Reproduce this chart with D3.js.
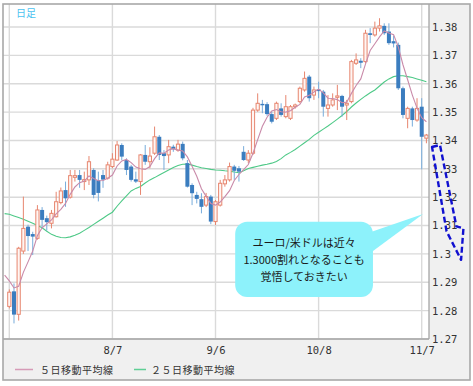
<!DOCTYPE html>
<html><head><meta charset="utf-8">
<script src="https://cdn.jsdelivr.net/npm/d3@7"></script>
<style>body{margin:0;background:#fff}svg{display:block}</style>
</head><body><svg id="c" width="473" height="386"></svg>
<script>
// ---- DATA ----
const dates = ["7/8","7/9","7/10","7/11","7/12","7/15","7/16","7/17","7/18","7/19",
"7/22","7/23","7/24","7/25","7/26","7/29","7/30","7/31","8/1","8/2",
"8/5","8/6","8/7","8/8","8/9","8/12","8/13","8/14","8/15","8/16",
"8/19","8/20","8/21","8/22","8/23","8/26","8/27","8/28","8/29","8/30",
"9/2","9/3","9/4","9/5","9/6","9/9","9/10","9/11","9/12","9/13",
"9/16","9/17","9/18","9/19","9/20","9/23","9/24","9/25","9/26","9/27",
"9/30","10/1","10/2","10/3","10/4","10/7","10/8","10/9","10/10","10/11",
"10/14","10/15","10/16","10/17","10/18","10/21","10/22","10/23","10/24","10/25",
"10/28","10/29","10/30","10/31","11/1","11/4","11/5","11/6","11/7","11/8"];
const open = [1.2815,1.2868,1.2787,1.3010,1.3096,1.3070,1.3055,1.3155,1.3126,1.3108,
1.3131,1.3181,1.3225,1.3200,1.3270,1.3278,1.3255,1.3261,1.3296,1.3260,
1.3278,1.3267,1.3308,1.3331,1.3384,1.3331,1.3308,1.3263,1.3255,1.3349,
1.3325,1.3355,1.3413,1.3355,1.3349,1.3378,1.3366,1.3388,1.3320,1.3243,
1.3208,1.3193,1.3172,1.3202,1.3114,1.3172,1.3247,1.3261,1.3308,1.3302,
1.3360,1.3331,1.3355,1.3507,1.3529,1.3528,1.3493,1.3478,1.3513,1.3484,
1.3478,1.3519,1.3537,1.3578,1.3625,1.3560,1.3580,1.3572,1.3513,1.3525,
1.3552,1.3557,1.3525,1.3537,1.3672,1.3681,1.3678,1.3778,1.3772,1.3796,
1.3804,1.3784,1.3750,1.3737,1.3584,1.3478,1.3513,1.3472,1.3519,1.3408];
const high = [1.2875,1.2896,1.3025,1.3202,1.3103,1.3078,1.3172,1.3165,1.3135,1.3155,
1.3219,1.3234,1.3255,1.3296,1.3296,1.3296,1.3290,1.3345,1.3302,1.3290,
1.3296,1.3325,1.3355,1.3398,1.3390,1.3337,1.3314,1.3290,1.3352,1.3384,
1.3376,1.3449,1.3419,1.3366,1.3402,1.3385,1.3402,1.3396,1.3331,1.3249,
1.3219,1.3214,1.3215,1.3208,1.3190,1.3261,1.3278,1.3322,1.3314,1.3310,
1.3380,1.3366,1.3515,1.3566,1.3543,1.3535,1.3501,1.3537,1.3531,1.3560,
1.3525,1.3530,1.3590,1.3643,1.3631,1.3590,1.3607,1.3578,1.3560,1.3566,
1.3596,1.3561,1.3543,1.3684,1.3707,1.3690,1.3790,1.3796,1.3819,1.3831,
1.3813,1.3813,1.3770,1.3745,1.3590,1.3519,1.3519,1.3549,1.3549,1.3423];
const low = [1.2808,1.2755,1.2765,1.3000,1.3010,1.2996,1.3050,1.3090,1.3082,1.3090,
1.3128,1.3175,1.3166,1.3195,1.3255,1.3233,1.3225,1.3243,1.3196,1.3185,
1.3233,1.3262,1.3302,1.3328,1.3331,1.3278,1.3255,1.3250,1.3208,1.3314,
1.3302,1.3349,1.3331,1.3296,1.3320,1.3360,1.3360,1.3330,1.3234,1.3172,
1.3178,1.3143,1.3165,1.3105,1.3102,1.3167,1.3237,1.3255,1.3261,1.3255,
1.3328,1.3320,1.3349,1.3501,1.3496,1.3487,1.3460,1.3472,1.3484,1.3478,
1.3472,1.3512,1.3531,1.3572,1.3537,1.3543,1.3549,1.3484,1.3484,1.3519,
1.3507,1.3484,1.3472,1.3531,1.3666,1.3655,1.3672,1.3743,1.3766,1.3784,
1.3772,1.3737,1.3728,1.3578,1.3478,1.3443,1.3449,1.3466,1.3298,1.3390];
const close = [1.2865,1.2786,1.3020,1.3090,1.3063,1.3061,1.3155,1.3120,1.3112,1.3143,
1.3184,1.3222,1.3196,1.3276,1.3276,1.3261,1.3262,1.3325,1.3208,1.3215,
1.3262,1.3314,1.3334,1.3384,1.3343,1.3296,1.3261,1.3255,1.3349,1.3325,
1.3345,1.3413,1.3349,1.3345,1.3378,1.3369,1.3387,1.3337,1.3237,1.3214,
1.3194,1.3166,1.3202,1.3114,1.3184,1.3249,1.3261,1.3308,1.3293,1.3290,
1.3331,1.3355,1.3507,1.3531,1.3524,1.3493,1.3466,1.3531,1.3490,1.3519,
1.3519,1.3525,1.3584,1.3619,1.3549,1.3578,1.3574,1.3519,1.3525,1.3543,
1.3557,1.3519,1.3531,1.3678,1.3684,1.3674,1.3778,1.3772,1.3796,1.3804,
1.3778,1.3743,1.3742,1.3584,1.3490,1.3513,1.3472,1.3513,1.3413,1.3419];
// moving averages: first value is for 7/5 (day before the first candle)
const ma5 = [1.2925,
1.2905,1.2880,1.2886,1.2935,1.2972,1.3010,1.3065,1.3092,1.3106,1.3120,
1.3141,1.3157,1.3178,1.3210,1.3236,1.3251,1.3257,1.3275,1.3266,1.3258,
1.3259,1.3267,1.3278,1.3310,1.3328,1.3333,1.3322,1.3306,1.3300,1.3298,
1.3308,1.3336,1.3356,1.3355,1.3366,1.3371,1.3366,1.3363,1.3342,1.3309,
1.3274,1.3230,1.3203,1.3178,1.3172,1.3183,1.3202,1.3223,1.3259,1.3280,
1.3297,1.3315,1.3355,1.3403,1.3450,1.3482,1.3504,1.3509,1.3501,1.3500,
1.3505,1.3517,1.3527,1.3553,1.3559,1.3571,1.3581,1.3568,1.3549,1.3548,
1.3544,1.3533,1.3535,1.3566,1.3594,1.3617,1.3669,1.3717,1.3741,1.3765,
1.3786,1.3779,1.3773,1.3730,1.3667,1.3614,1.3560,1.3514,1.3480,1.3466];
const ma25 = [1.3142,
1.3140,1.3134,1.3128,1.3122,1.3115,1.3108,1.3100,1.3092,1.3080,1.3069,
1.3062,1.3058,1.3057,1.3060,1.3066,1.3073,1.3083,1.3093,1.3104,1.3115,
1.3126,1.3137,1.3147,1.3168,1.3187,1.3205,1.3222,1.3231,1.3238,1.3250,
1.3261,1.3269,1.3278,1.3287,1.3296,1.3305,1.3312,1.3316,1.3317,1.3313,
1.3308,1.3304,1.3301,1.3298,1.3296,1.3295,1.3293,1.3292,1.3289,1.3286,
1.3293,1.3301,1.3305,1.3309,1.3313,1.3316,1.3320,1.3326,1.3336,1.3349,
1.3358,1.3368,1.3380,1.3392,1.3404,1.3418,1.3429,1.3440,1.3451,1.3463,
1.3475,1.3488,1.3502,1.3518,1.3532,1.3545,1.3557,1.3568,1.3578,1.3592,
1.3606,1.3617,1.3625,1.3628,1.3628,1.3625,1.3622,1.3617,1.3612,1.3607];
const yTicks = [1.27,1.28,1.29,1.30,1.31,1.32,1.33,1.34,1.35,1.36,1.37,1.38];
const gridDates = ["7/8","8/7","9/6","10/8","11/7"];
const labelDates = ["8/7","9/6","10/8","11/7"];
const seriesNames = ["５日移動平均線","２５日移動平均線"];
const chartTitle = "日足";
const calloutLines = ["ユーロ/米ドルは近々","1.3000割れとなることも","覚悟しておきたい"];
// annotation anchors in (day index, price) units
const calloutBox = {i0:48.2, i1:77.6, p0:1.3113, p1:1.2848, tipI:88.3, tipP:1.3141, baseP0:1.3077, baseP1:1.3005};
const arrowPts = [[90.2,1.3377],[91.9,1.3384],[95.4,1.3097],[96.9,1.3090],[96.4,1.2979],[93.3,1.3080]];

// ---- LAYOUT ----
const L = 3, T = 4, R = 429, B = 339, OR = 470, OB = 380;
const svg = d3.select("#c");
const x = d3.scaleLinear().domain([0, 89]).range([9.3, 426.4]);
const y = d3.scaleLinear().domain([1.27, 1.38]).range([B, 27]);

svg.append("rect").attr("width",473).attr("height",386).attr("fill","#fff");
svg.append("rect").attr("x",L).attr("y",T).attr("width",OR-L).attr("height",OB-T)
  .attr("fill","#f0f0f0");
svg.append("rect").attr("x",L).attr("y",T).attr("width",R-L).attr("height",B-T).attr("fill","#fff");

svg.append("defs").append("clipPath").attr("id","clip")
  .append("rect").attr("x",L).attr("y",T).attr("width",R-L).attr("height",B-T);

// grid
const grid = svg.append("g");
grid.selectAll("line.h").data(yTicks).join("line")
  .attr("x1",L).attr("x2",R).attr("y1",d=>y(d)).attr("y2",d=>y(d))
  .attr("stroke","#dadada").attr("stroke-width",1.4);
grid.selectAll("line.v").data(gridDates).join("line")
  .attr("x1",d=>x(dates.indexOf(d))).attr("x2",d=>x(dates.indexOf(d)))
  .attr("y1",T).attr("y2",B).attr("stroke","#dadada").attr("stroke-width",1.4);

const plot = svg.append("g").attr("clip-path","url(#clip)");

// MAs
const lineGen = d3.line().x((d,k)=>x(k-1)).y(d=>y(d));
plot.append("path").attr("d",lineGen(ma25)).attr("fill","none")
  .attr("stroke","#4ec987").attr("stroke-width",1.1);

// candles
const idx = d3.range(close.length);
const up = i => close[i] >= open[i];
plot.selectAll("line.w").data(idx).join("line")
  .attr("x1",i=>x(i)).attr("x2",i=>x(i))
  .attr("y1",i=>y(high[i])).attr("y2",i=>y(low[i]))
  .attr("stroke",i=>up(i)?"#e7866f":"#78acdb").attr("stroke-width",1);
plot.selectAll("rect.b").data(idx).join("rect")
  .attr("x",i=>x(i)-(up(i)?1.6:2))
  .attr("width",i=>up(i)?3.2:4)
  .attr("y",i=>y(Math.max(open[i],close[i])))
  .attr("height",i=>Math.max(1, Math.abs(y(open[i])-y(close[i]))))
  .attr("fill",i=>up(i)?"#fff6f3":"#3b7dbf")
  .attr("stroke",i=>up(i)?"#e7866f":"none").attr("stroke-width",1);

plot.append("path").attr("d",lineGen(ma5)).attr("fill","none")
  .attr("stroke","#c98aa9").attr("stroke-width",1.1);

// frame lines
svg.append("line").attr("x1",L).attr("x2",R).attr("y1",B).attr("y2",B).attr("stroke","#a5a5a5").attr("stroke-width",1.3);
svg.append("line").attr("x1",R).attr("x2",R).attr("y1",T).attr("y2",B).attr("stroke","#a5a5a5").attr("stroke-width",1.3);
svg.append("rect").attr("x",L).attr("y",T).attr("width",OR-L).attr("height",OB-T)
  .attr("fill","none").attr("stroke","#a8a8a8").attr("stroke-width",1.6);

// axes
const yAxis = svg.append("g").attr("transform",`translate(${R},0)`)
  .call(d3.axisRight(y).tickValues(yTicks).tickSize(0).tickPadding(3).tickFormat(d=>String(+d.toFixed(2))));
yAxis.select(".domain").remove();
yAxis.selectAll("text").attr("font-family","'DejaVu Sans Mono', monospace").attr("font-size",10.5).attr("fill","#333");

const xAxis = svg.append("g").attr("transform",`translate(0,${B})`)
  .call(d3.axisBottom(x).tickValues(labelDates.map(d=>dates.indexOf(d))).tickSize(0).tickPadding(8).tickFormat(i=>dates[i]));
xAxis.select(".domain").remove();
xAxis.selectAll("text").attr("font-family","'DejaVu Sans Mono', monospace").attr("font-size",10.5).attr("fill","#333");

// title
svg.append("text").attr("x",16).attr("y",17).text(chartTitle)
  .attr("font-family","'Noto Sans CJK JP', sans-serif").attr("font-size",10).attr("fill","#4cc2f0");

// legend
const legCols = ["#d69bb7","#5fcf95"];
const legX = [[15,33,40],[134,146,151]];
seriesNames.forEach((n,k)=>{
  svg.append("line").attr("x1",legX[k][0]).attr("x2",legX[k][1]).attr("y1",369.5).attr("y2",369.5)
    .attr("stroke",legCols[k]).attr("stroke-width",1.5);
  svg.append("text").attr("x",legX[k][2]).attr("y",369.5).attr("dominant-baseline","central")
    .text(n).attr("font-family","'Noto Sans CJK JP', sans-serif").attr("font-size",10)
    .attr("letter-spacing",0.5).attr("fill","#333");
});

// callout
const cb = calloutBox;
const bx0 = x(cb.i0), bx1 = x(cb.i1), by0 = y(cb.p0), by1 = y(cb.p1);
svg.append("path")
  .attr("d",`M${bx1-2},${y(cb.baseP0)} L${x(cb.tipI)},${y(cb.tipP)} L${bx1-2},${y(cb.baseP1)} Z`)
  .attr("fill","#8df2fb");
svg.append("rect").attr("x",bx0).attr("y",by0).attr("width",bx1-bx0).attr("height",by1-by0)
  .attr("rx",12).attr("fill","#8df2fb");
const cx = (bx0+bx1)/2, cy = (by0+by1)/2;
calloutLines.forEach((t,k)=>{
  svg.append("text").attr("x",cx).attr("y",cy+(k-1)*17).attr("text-anchor","middle")
    .attr("dominant-baseline","central").text(t)
    .attr("font-family","'Noto Sans CJK JP', sans-serif").attr("font-size",11).attr("fill","#1a1a1a");
});

// dashed arrow
svg.append("path").attr("d", d3.line()(arrowPts.map(p=>[x(p[0]),y(p[1])])) + "Z")
  .attr("fill","none").attr("stroke","#1010d0").attr("stroke-width",2.4)
  .attr("stroke-dasharray","6,3").attr("stroke-linejoin","round");
</script></body></html>
